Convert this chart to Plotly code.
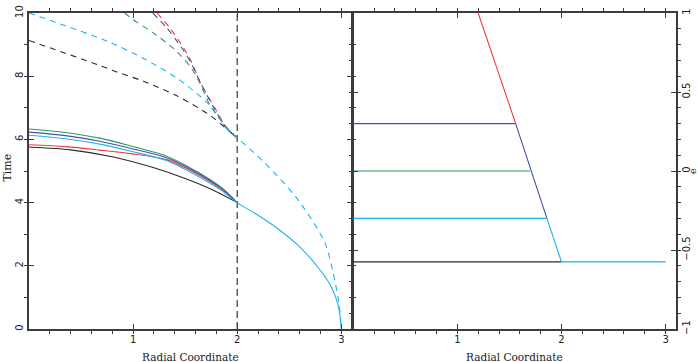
import plotly.graph_objects as go

# ---------------- data ----------------
# Left panel: solid curves (Radial Coordinate, Time)
black_x = [0.0, 0.4, 0.8, 1.2, 1.5, 1.75, 2.0]
black_t = [5.76, 5.67, 5.45, 5.10, 4.76, 4.42, 4.0]
red_x = [0.0, 0.35, 0.68, 0.97, 1.32, 1.64, 1.85, 2.0]
red_t = [5.83, 5.77, 5.66, 5.55, 5.36, 4.86, 4.42, 4.0]
green_x = [0.0, 0.35, 0.68, 0.97, 1.32, 1.64, 1.85, 2.0]
green_t = [6.33, 6.22, 6.04, 5.80, 5.47, 4.93, 4.47, 4.0]
blue_x = [0.0, 0.35, 0.68, 0.97, 1.32, 1.64, 1.85, 2.0]
blue_t = [6.23, 6.12, 5.94, 5.72, 5.42, 4.90, 4.45, 4.0]
cyan_x = [0.0, 0.35, 0.68, 0.97, 1.32, 1.64, 1.85, 2.0, 2.2, 2.4, 2.6, 2.8, 2.9, 2.97, 3.0]
cyan_t = [6.13, 6.02, 5.85, 5.63, 5.33, 4.80, 4.38, 4.0, 3.6, 3.15, 2.6, 1.85, 1.35, 0.75, 0.0]

# Left panel: dashed curves
dblack_x = [0.0, 0.67, 0.83, 1.10, 1.42, 1.74, 1.91, 2.0]
dblack_t = [9.13, 8.35, 8.15, 7.84, 7.38, 6.76, 6.30, 6.05]
dcyan_x = [0.0, 0.78, 1.10, 1.42, 1.74, 1.91, 2.0, 2.25, 2.57, 2.84, 2.92, 2.98, 3.0]
dcyan_t = [10.0, 9.07, 8.56, 7.94, 7.07, 6.30, 6.05, 5.30, 4.15, 2.75, 1.80, 0.75, 0.0]
dgreen_x = [0.92, 1.00, 1.19, 1.39, 1.55, 1.64, 1.74, 1.88, 2.0]
dgreen_t = [10.0, 9.79, 9.38, 8.87, 8.30, 7.79, 7.07, 6.45, 6.05]
dred_x = [1.23, 1.35, 1.45, 1.56, 1.64, 1.79, 1.91, 2.0]
dred_t = [10.0, 9.54, 9.07, 8.46, 7.84, 6.97, 6.30, 6.05]
dblue_x = [1.19, 1.32, 1.43, 1.55, 1.64, 1.78, 1.91, 2.0]
dblue_t = [10.0, 9.54, 9.07, 8.46, 7.84, 6.97, 6.30, 6.05]

vline_x = [2.0, 2.0]
vline_t = [0.0, 10.0]

# Right panel: e versus Radial Coordinate
eblack_x = [0.0, 2.0]
eblack_e = [-0.575, -0.575]
ecyanh_x = [0.0, 1.86]
ecyanh_e = [-0.30, -0.30]
egreen_x = [0.0, 1.70]
egreen_e = [0.0, 0.0]
eblueh_x = [0.0, 1.56]
eblueh_e = [0.30, 0.30]
ered_x = [1.20, 1.56]
ered_e = [1.0, 0.30]
ebluediag_x = [1.56, 1.86]
ebluediag_e = [0.30, -0.30]
ecyandiag_x = [1.86, 2.0, 3.0]
ecyandiag_e = [-0.30, -0.575, -0.575]

x_ticks = [1, 2, 3]
t_ticks = [0, 2, 4, 6, 8, 10]
e_ticks = [-1, -0.5, 0, 0.5, 1]

# ---------------- styles ----------------
C_BLACK = "#2a2a2a"
C_RED = "#f03a3a"
C_GREEN = "#2a9d55"
C_BLUE = "#4a4fa8"
C_CYAN = "#1fb2ee"
C_AX = "#3c3c3c"
W = 1.1
DASH = "6px,5px"

fig = go.Figure()

def add(x, y, color, dash="solid", xa="x", ya="y", shape="spline", width=W):
    line = dict(color=color, width=width, dash=dash, shape=shape)
    if shape == "spline":
        line["smoothing"] = 0.8
    fig.add_trace(go.Scatter(x=x, y=y, mode="lines", xaxis=xa, yaxis=ya, line=line,
                             hoverinfo="skip", showlegend=False))

# dashed vertical
add(vline_x, vline_t, "#555555", dash="7px,4px", shape="linear", width=1.4)
# dashed curves
add(dblack_x, dblack_t, C_BLACK, dash=DASH)
add(dgreen_x, dgreen_t, C_GREEN, dash=DASH)
add(dred_x, dred_t, C_RED, dash=DASH)
add(dblue_x, dblue_t, C_BLUE, dash=DASH)
add(dcyan_x, dcyan_t, C_CYAN, dash=DASH)
# solid curves
add(black_x, black_t, C_BLACK)
add(red_x, red_t, C_RED)
add(green_x, green_t, C_GREEN)
add(blue_x, blue_t, C_BLUE)
add(cyan_x, cyan_t, C_CYAN)

# right panel
add(eblack_x, eblack_e, C_BLACK, xa="x2", ya="y2", shape="linear")
add(ecyanh_x, ecyanh_e, C_CYAN, xa="x2", ya="y2", shape="linear")
add(egreen_x, egreen_e, C_GREEN, xa="x2", ya="y2", shape="linear")
add(eblueh_x, eblueh_e, C_BLUE, xa="x2", ya="y2", shape="linear")
add(ered_x, ered_e, C_RED, xa="x2", ya="y2", shape="linear")
add(ebluediag_x, ebluediag_e, C_BLUE, xa="x2", ya="y2", shape="linear")
add(ecyandiag_x, ecyandiag_e, C_CYAN, xa="x2", ya="y2", shape="linear")

tickfont = dict(family="DejaVu Sans", size=10, color="#222222")

def axis(**kw):
    d = dict(showline=True, linecolor=C_AX, linewidth=1.5, ticks="inside",
             tickcolor=C_AX, tickwidth=1, ticklen=5, showgrid=False, zeroline=False,
             tickfont=tickfont)
    d.update(kw)
    return d

fig.update_layout(
    width=698, height=362,
    margin=dict(l=29, r=22, t=5, b=33),
    paper_bgcolor="white", plot_bgcolor="white",
    xaxis=axis(domain=[0, 0.49884], range=[0, 3.1], tickvals=x_ticks, mirror="ticks",
               anchor="y", minor=dict(dtick=0.2, tick0=0, ticklen=3)),
    yaxis=axis(domain=[0, 1], range=[0, 10], tickvals=t_ticks, tickangle=-90,
               mirror="ticks", anchor="x", minor=dict(dtick=1, tick0=0, ticklen=3)),
    xaxis2=axis(domain=[0.50116, 1], range=[0, 3.1], tickvals=x_ticks, mirror="ticks",
                anchor="y2", minor=dict(dtick=0.2, tick0=0, ticklen=3)),
    yaxis2=axis(domain=[0, 1], range=[-1, 1], tickvals=e_ticks, side="right",
                anchor="x2", tickangle=-90, mirror="ticks",
                minor=dict(dtick=0.1, tick0=0, ticklen=3)),
)

labfont = dict(family="DejaVu Serif", size=10.5, color="#222222")
fig.add_annotation(text="Radial Coordinate", xref="paper", yref="paper", x=0.25, y=-0.0895,
                   showarrow=False, xanchor="center", yanchor="middle", font=labfont)
fig.add_annotation(text="Radial Coordinate", xref="paper", yref="paper", x=0.75, y=-0.0895,
                   showarrow=False, xanchor="center", yanchor="middle", font=labfont)
fig.add_annotation(text="Time", xref="paper", yref="paper", x=0, xshift=-21, y=0.511,
                   showarrow=False, xanchor="center", yanchor="middle", textangle=-90,
                   font=dict(family="DejaVu Serif", size=11, color="#222222"))
fig.add_annotation(text="e", xref="paper", yref="paper", x=1, xshift=16, y=0.5,
                   showarrow=False, xanchor="center", yanchor="middle", textangle=-90,
                   font=dict(family="DejaVu Serif", size=9.5, color="#222222"))

fig.write_html("out.html", config={"displayModeBar": False},
               post_script="document.body.style.margin='0px';")
